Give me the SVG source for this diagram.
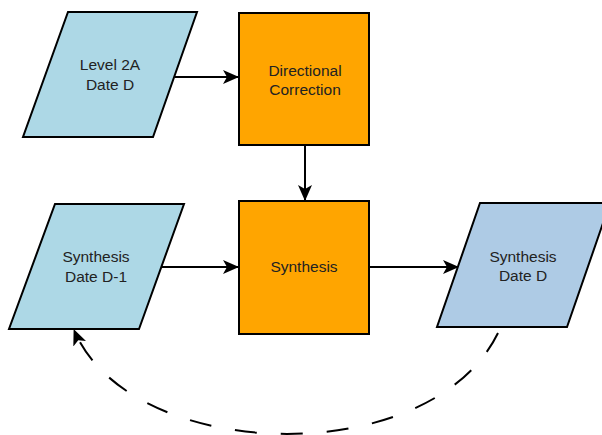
<svg xmlns="http://www.w3.org/2000/svg" width="602" height="435" viewBox="0 0 602 435">
<style>
.data{stroke:#000;stroke-width:2;stroke-linejoin:miter}
.proc{fill:#FFA500;stroke:#000;stroke-width:2}
.t{font-family:"Liberation Sans",Arial,sans-serif;font-size:15.5px;fill:#222;text-anchor:middle}
.c{fill:none;stroke:#000;stroke-width:2}
</style>
<defs>
<marker id="ah" viewBox="0 0 16 14" refX="15" refY="7" markerWidth="16" markerHeight="14" markerUnits="userSpaceOnUse" orient="auto">
<path d="M0,0 L16,7 L0,14 L4,7 Z" fill="#000"/>
</marker>
</defs>
<rect width="602" height="435" fill="#fff"/>
<g id="connectors">
<line class="c" x1="175" y1="77" x2="238" y2="77" marker-end="url(#ah)"/>
<line class="c" x1="305" y1="146" x2="305" y2="200" marker-end="url(#ah)"/>
<line class="c" x1="162" y1="267" x2="238" y2="267" marker-end="url(#ah)"/>
<line class="c" x1="370" y1="267" x2="458" y2="267" marker-end="url(#ah)"/>
<path class="c" d="M498,333 C430,472 130,464 74,330" stroke-dasharray="22 24" marker-end="url(#ah)"/>
</g>
<g id="level2a">
<polygon class="data" fill="#ADD8E6" points="68,12 197,12 153,137 23,137"/>
<text class="t" x="110" y="70">Level 2A</text>
<text class="t" x="110" y="90">Date D</text>
</g>
<g id="directional">
<rect class="proc" x="239" y="13" width="130" height="132"/>
<text class="t" x="305" y="76">Directional</text>
<text class="t" x="305" y="95">Correction</text>
</g>
<g id="synthD1">
<polygon class="data" fill="#ADD8E6" points="55,204 184,204 139,329 9,329"/>
<text class="t" x="96" y="262">Synthesis</text>
<text class="t" x="96" y="282">Date D-1</text>
</g>
<g id="synthesis">
<rect class="proc" x="239" y="201" width="130" height="133"/>
<text class="t" x="304" y="272">Synthesis</text>
</g>
<g id="synthD">
<polygon class="data" fill="#AECBE5" points="480,203 610,203 567,327 437,327"/>
<text class="t" x="523" y="262">Synthesis</text>
<text class="t" x="523" y="281">Date D</text>
</g>
</svg>
